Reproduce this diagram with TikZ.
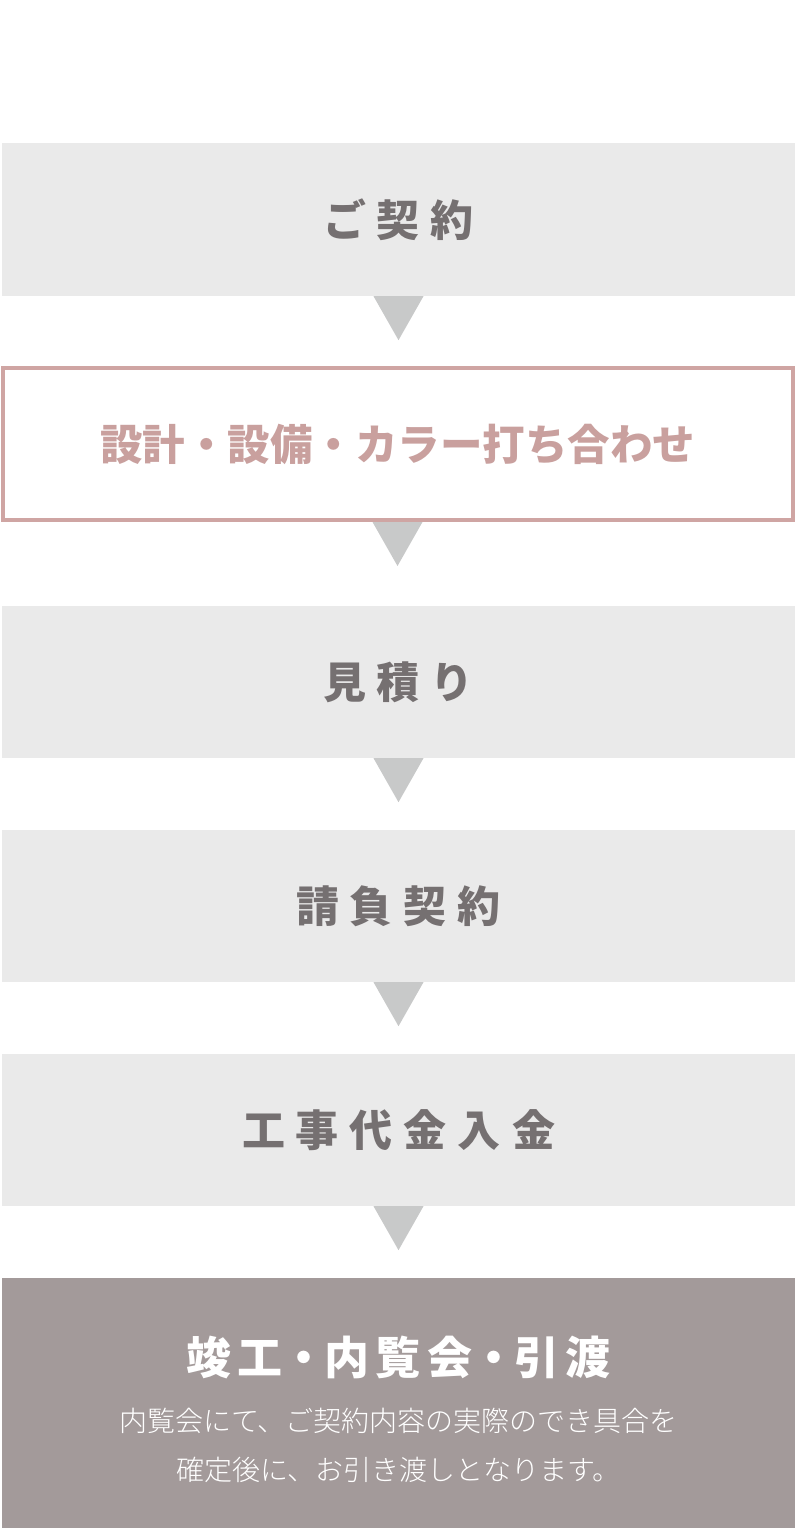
\documentclass[tikz,border=0pt]{standalone}
\usepackage{fontspec}
\newfontfamily\jp{Noto Sans CJK JP}
\newfontfamily\jplight{Noto Sans CJK JP Light}
\usetikzlibrary{calc}
\definecolor{boxgray}{HTML}{EAEAEA}
\definecolor{trigray}{HTML}{C8C9C9}
\definecolor{txtgray}{HTML}{757071}
\definecolor{pinkline}{HTML}{CFA5A3}
\definecolor{pinktxt}{HTML}{C9A09E}
\definecolor{darkbox}{HTML}{A39A9A}
\newcommand{\gsp}{\hspace{11pt}}
\newcommand{\tsp}{\hspace{7pt}}
\newcommand{\tdot}{\hspace{-2pt}・\hspace{-2pt}}
\begin{document}
\begin{tikzpicture}[x=1pt,y=-1pt,
  stepbox/.style={fill=boxgray,inner sep=0pt,minimum width=793pt,minimum height=152pt,
    font=\jp\bfseries\fontsize{43}{50}\selectfont,text=txtgray},
  pinkbox/.style={draw=pinkline,line width=4pt,fill=white,inner sep=0pt,minimum width=790pt,minimum height=152pt,
    font=\jp\bfseries\fontsize{42.5}{50}\selectfont,text=pinktxt},
  lastbox/.style={fill=darkbox,inner sep=0pt,minimum width=793pt,minimum height=250pt},
  tri/.style={fill=trigray}]
\useasboundingbox (0,0) rectangle (795,1528);
\node[stepbox,minimum height=153pt] (b1) at (398.5,219.5) {ご\gsp 契\gsp 約};
\node[pinkbox] (b2) at (397.5,444) {設計・設備・カラー打ち合わせ};
\node[stepbox] (b3) at (398.5,682) {見\gsp 積\gsp り};
\node[stepbox] (b4) at (398.5,906) {請\gsp 負\gsp 契\gsp 約};
\node[stepbox] (b5) at (398.5,1130) {工\gsp 事\gsp 代\gsp 金\gsp 入\gsp 金};
\node[lastbox] (b6) at (398.5,1403) {};
\node[font=\jp\bfseries\fontsize{45}{50}\selectfont,text=white,inner sep=0pt] (t6) at (398.5,1357)
  {竣\tsp 工\tdot 内\tsp 覧\tsp 会\tdot 引\tsp 渡};
\node[font=\jplight\fontsize{28}{49}\selectfont,text=white,align=center,inner sep=0pt] (s6) at (398.5,1445)
  {内覧会にて、ご契約内容の実際のでき具合を\\確定後に、お引き渡しとなります。};
\foreach \a/\b in {b1/b2,b2/b3,b3/b4,b4/b5,b5/b6}{
  \fill[tri] ($(\a.south)+(-25,0)$) -- ++(50,0) -- ++(-25,44) -- cycle;
}
\end{tikzpicture}
\end{document}
